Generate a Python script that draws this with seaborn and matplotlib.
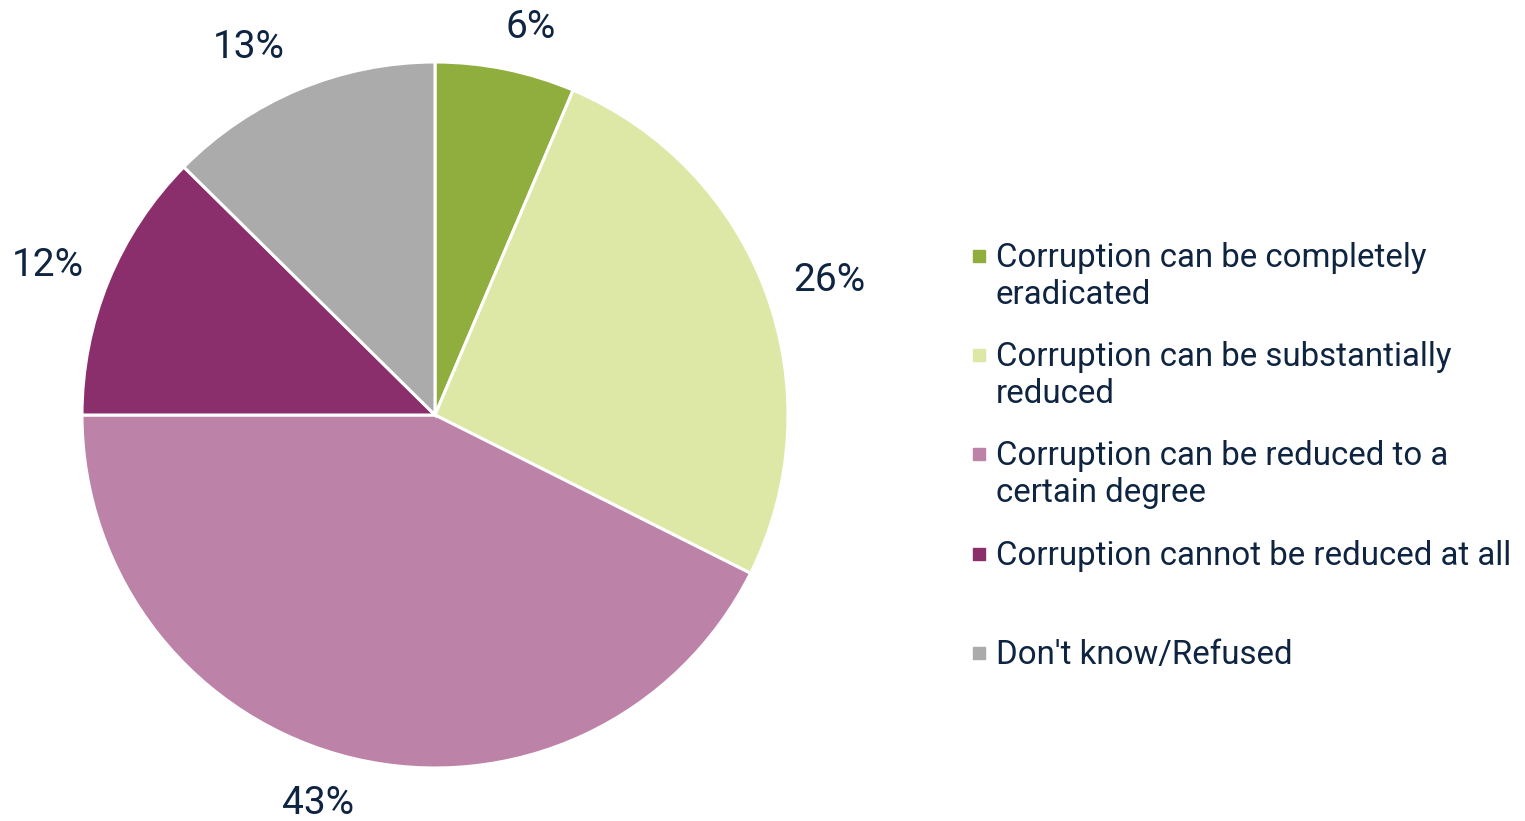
import matplotlib
matplotlib.use("Agg")
import numpy as np
import matplotlib.pyplot as plt
import seaborn as sns

# survey answers, read clockwise from 12 o'clock (shares in %, shown rounded)
categories = [
    "Corruption can be completely\neradicated",
    "Corruption can be substantially\nreduced",
    "Corruption can be reduced to a\ncertain degree",
    "Corruption cannot be reduced at all",
    "Don't know/Refused",
]
shares = [6.4, 26.0, 42.6, 12.4, 12.6]
colors = ["#8FAE3E", "#DDE8A6", "#BC82A8", "#8B2F6C", "#ABABAB"]

text_color = "#0E2441"
# where each percentage sits: distance in pie radii and a small angle nudge (deg)
label_dist = [1.131, 1.181, 1.149, 1.177, 1.166]
label_nudge = [-2.3, -1.4, -3.5, 1.2, 4.2]

sns.set_theme(style="white")
plt.rcParams["font.family"] = ["Roboto", "DejaVu Sans"]

fig = plt.figure(figsize=(15.25, 8.21), dpi=100)
# pie centred at (435, 415) px with radius ~353 px
ax = fig.add_axes([82 / 1525, 53 / 821, 706 / 1525, 706 / 821])

wedges, texts, autotexts = ax.pie(
    shares,
    colors=colors,
    startangle=90,
    counterclock=False,
    autopct="%.0f%%",
    wedgeprops=dict(edgecolor="white", linewidth=2.2),
    textprops=dict(color=text_color, fontsize=28),
)
for w, t, d, nd in zip(wedges, autotexts, label_dist, label_nudge):
    mid = np.deg2rad((w.theta1 + w.theta2) / 2 + nd)
    t.set_position((d * np.cos(mid), d * np.sin(mid)))
    t.set_ha("center")
    t.set_va("center")

ax.set_xlim(-1, 1)
ax.set_ylim(-1, 1)
ax.set_aspect("equal")
ax.axis("off")

# legend drawn by hand so the swatch lines up with the first text line
H = 821
for i, (lab, col) in enumerate(zip(categories, colors)):
    yc = 256 + i * 99.2
    fig.patches.append(plt.Rectangle((973 / 1525, (H - yc - 6) / H), 12 / 1525, 12 / H,
                                     transform=fig.transFigure, color=col, figure=fig))
    for j, line in enumerate(lab.split("\n")):
        fig.text(996 / 1525, (H - yc - 11 - j * 36.5) / H, line, color=text_color,
                 fontsize=23.8, va="baseline", ha="left")

fig.savefig("out.png", dpi=100, facecolor="white")
